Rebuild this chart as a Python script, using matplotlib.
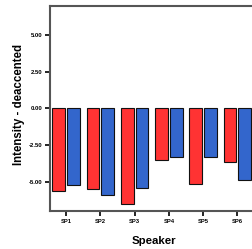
import matplotlib
matplotlib.use("Agg")
import matplotlib.pyplot as plt
import numpy as np

speakers = ["SP1", "SP2", "SP3", "SP4", "SP5", "SP6"]
series_red = [-5.63, -5.50, -6.53, -3.49, -5.17, -3.63]
series_blue = [-5.24, -5.90, -5.40, -3.29, -3.33, -4.88]
yticks = [-5.0, -2.5, 0.0, 2.5, 5.0]

plt.rcParams['font.family'] = ['Liberation Sans', 'DejaVu Sans']

fig = plt.figure(figsize=(2.52, 2.49), dpi=100)
ax = fig.add_axes([50/252, 1-211/249, 208/252, 205/249])

x = np.arange(len(speakers))
w = 0.37
ax.bar(x - 0.215, series_red, w, color="#ff3333", edgecolor="#111111", linewidth=0.8, zorder=3)
ax.bar(x + 0.215, series_blue, w, color="#3366cc", edgecolor="#111111", linewidth=0.8, zorder=3)

ax.set_xlim(-0.47, 5.6)
ax.set_ylim(-7, 7)
ax.set_yticks(yticks)
ax.set_yticklabels([f"{v:.2f}" for v in yticks], fontsize=4.3, fontweight="bold")
ax.set_xticks(x)
ax.set_xticklabels(speakers, fontsize=4.2, fontweight="bold")
ax.tick_params(axis="both", length=3.5, width=1.2, color="black", pad=2)

for s in ["left", "top", "bottom", "right"]:
    ax.spines[s].set_color("#555555")
    ax.spines[s].set_linewidth(1.5)

ax.set_ylabel("Intensity - deaccented", fontsize=8.3, fontweight="bold")
ax.yaxis.set_label_coords(-0.118, 0.52)
ax.set_xlabel("Speaker", fontsize=8.2, fontweight="bold", labelpad=9)

fig.savefig("out.png", dpi=100)
